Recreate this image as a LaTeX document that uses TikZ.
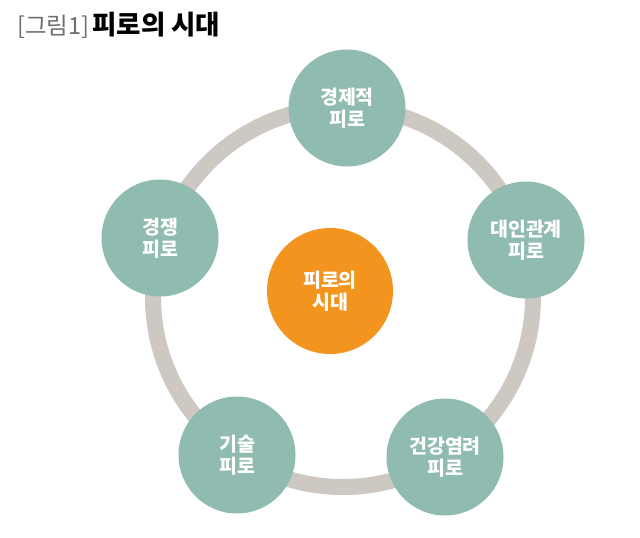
\documentclass[tikz,border=0pt]{standalone}
\usepackage{fontspec}
\newfontfamily\kr{Noto Sans CJK KR}
\definecolor{ringgray}{RGB}{205,200,194}
\definecolor{teal}{RGB}{143,187,176}
\definecolor{orangec}{RGB}{243,148,30}
\definecolor{titlegray}{RGB}{110,110,110}
\tikzset{
  item/.style={circle, fill=teal, minimum size=117pt, inner sep=0pt, text=white,
    font=\kr\bfseries\fontsize{19.5}{22}\selectfont, align=center},
  hub/.style={circle, fill=orangec, minimum size=126pt, inner sep=0pt, text=white,
    font=\kr\bfseries\fontsize{19.5}{22}\selectfont, align=center},
}
\begin{document}
\begin{tikzpicture}[x=1pt,y=-1pt]
\useasboundingbox (0,0) rectangle (640,538);
\coordinate (c) at (343,297);
\draw[ringgray, line width=16pt] (c) circle[radius=190];
\node[item] (top) at (347,108) {경제적\\피로};
\node[item] (right) at (526,240) {대인관계\\피로};
\node[item] (left) at (160,238) {경쟁\\피로};
\node[item] (bl) at (237,455) {기술\\피로};
\node[item] (br) at (445,457) {건강염려\\피로};
\node[hub] (hub) at (330,291) {피로의\\시대};
\node[anchor=west, inner sep=0pt, font=\kr] (title) at (17,25)
  {\textcolor{titlegray}{\fontsize{23.5}{26}\selectfont[그림1]}\hspace{3pt}{\fontsize{26.5}{28}\selectfont\bfseries 피로의 시대}};
\end{tikzpicture}
\end{document}
